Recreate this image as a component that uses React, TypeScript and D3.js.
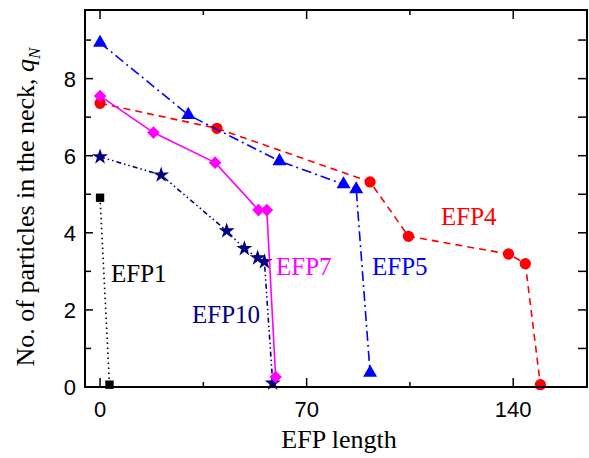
import React from "react";
import * as d3 from "d3";

// EFP length (x) vs. number of particles in the neck (y) for each EFP series
const efp1X = [0, 3.2];
const efp1Y = [4.91, 0.06];

const efp4X = [0, 39.6, 91.5, 104.5, 138.4, 144.1, 149.2];
const efp4Y = [7.36, 6.71, 5.32, 3.91, 3.45, 3.2, 0.06];

const efp5X = [0, 29.9, 60.8, 82.5, 86.8, 91.5];
const efp5Y = [8.93, 7.06, 5.86, 5.26, 5.13, 0.37];

const efp7X = [0, 18.1, 39, 53.7, 56.5, 59.5];
const efp7Y = [7.55, 6.6, 5.82, 4.59, 4.59, 0.26];

const efp10X = [0, 20.7, 42.9, 48.9, 53.4, 55.7, 58.5];
const efp10Y = [5.97, 5.5, 4.05, 3.59, 3.35, 3.25, 0.1];

const xMajorTicks = [0, 70, 140];
const xMinorTicks = [35, 105];
const yMajorTicks = [0, 2, 4, 6, 8];
const yMinorTicks = [1, 3, 5, 7, 9];

const W = 589;
const H = 458;
const margin = { left: 85, top: 10, right: 2, bottom: 71 };

const x = d3.scaleLinear().domain([-5.1, 165]).range([margin.left, W - margin.right]);
const y = d3.scaleLinear().domain([0, 9.78]).range([H - margin.bottom, margin.top]);

type Series = {
  name: string;
  xs: number[];
  ys: number[];
  color: string;
  dash: string;
  symbol: d3.SymbolType;
  size: number;
  rotate: number;
  label: { x: number; y: number };
};

const series: Series[] = [
  { name: "EFP1", xs: efp1X, ys: efp1Y, color: "#000000", dash: "1.5,3.5", symbol: d3.symbolSquare, size: 70, rotate: 0, label: { x: 111, y: 282 } },
  { name: "EFP10", xs: efp10X, ys: efp10Y, color: "#000080", dash: "5,3,1.5,3,1.5,3", symbol: d3.symbolStar, size: 80, rotate: 0, label: { x: 192, y: 323 } },
  { name: "EFP4", xs: efp4X, ys: efp4Y, color: "#ff0000", dash: "7,5", symbol: d3.symbolCircle, size: 100, rotate: 0, label: { x: 441, y: 225 } },
  { name: "EFP5", xs: efp5X, ys: efp5Y, color: "#0000ff", dash: "10,4,2,4", symbol: d3.symbolTriangle, size: 85, rotate: 0, label: { x: 372, y: 275 } },
  { name: "EFP7", xs: efp7X, ys: efp7Y, color: "#ff00ff", dash: "none", symbol: d3.symbolSquare, size: 80, rotate: 45, label: { x: 276, y: 275 } },
];

const lineGen = d3
  .line<[number, number]>()
  .x((d) => x(d[0]))
  .y((d) => y(d[1]));

const serif = "Liberation Serif";
const sans = "Liberation Sans";

export default function App() {
  const x0 = margin.left;
  const x1 = W - margin.right;
  const y0 = H - margin.bottom;
  const y1 = margin.top;

  return (
    <svg width={W} height={H} style={{ position: "absolute", left: 0, top: 0, background: "#fff" }}>
      {series.map((s) => {
        const pts = s.xs.map((v, i) => [v, s.ys[i]] as [number, number]);
        const sym = d3.symbol().type(s.symbol).size(s.size)() as string;
        return (
          <g key={s.name}>
            <path
              d={lineGen(pts) as string}
              fill="none"
              stroke={s.color}
              strokeWidth={1.6}
              strokeDasharray={s.dash}
            />
            {pts.map((p, i) => (
              <path
                key={i}
                d={sym}
                fill={s.color}
                transform={`translate(${x(p[0])},${y(p[1])}) rotate(${s.rotate})`}
              />
            ))}
            <text x={s.label.x} y={s.label.y} fill={s.color} style={{ fontFamily: serif, fontSize: 25 }}>
              {s.name}
            </text>
          </g>
        );
      })}

      {/* ticks, pointing inward on all four sides */}
      <g stroke="#000" strokeWidth={1.5}>
        {xMajorTicks.map((t) => (
          <g key={"xm" + t}>
            <line x1={x(t)} x2={x(t)} y1={y0} y2={y0 - 9} />
            <line x1={x(t)} x2={x(t)} y1={y1} y2={y1 + 9} />
          </g>
        ))}
        {xMinorTicks.map((t) => (
          <g key={"xn" + t}>
            <line x1={x(t)} x2={x(t)} y1={y0} y2={y0 - 5} />
            <line x1={x(t)} x2={x(t)} y1={y1} y2={y1 + 5} />
          </g>
        ))}
        {yMajorTicks.map((t) => (
          <g key={"ym" + t}>
            <line x1={x0} x2={x0 + 8} y1={y(t)} y2={y(t)} />
            <line x1={x1} x2={x1 - 9} y1={y(t)} y2={y(t)} />
          </g>
        ))}
        {yMinorTicks.map((t) => (
          <g key={"yn" + t}>
            <line x1={x0} x2={x0 + 6} y1={y(t)} y2={y(t)} />
            <line x1={x1} x2={x1 - 9} y1={y(t)} y2={y(t)} />
          </g>
        ))}
      </g>

      <rect x={x0} y={y1} width={x1 - x0} height={y0 - y1} fill="none" stroke="#000" strokeWidth={2} />

      {xMajorTicks.map((t) => (
        <text key={"xl" + t} x={x(t)} y={417} textAnchor="middle" style={{ fontFamily: sans, fontSize: 22 }}>
          {t}
        </text>
      ))}
      {yMajorTicks.map((t) => (
        <text key={"yl" + t} x={76} y={y(t)} dy="0.36em" textAnchor="end" style={{ fontFamily: sans, fontSize: 22 }}>
          {t}
        </text>
      ))}

      <text x={339} y={448} textAnchor="middle" style={{ fontFamily: serif, fontSize: 26 }}>
        EFP length
      </text>
      <text
        transform={`translate(34,207) rotate(-90)`}
        textAnchor="middle"
        style={{ fontFamily: serif, fontSize: 26 }}
      >
        No. of particles in the neck,{" "}
        <tspan fontStyle="italic">q</tspan>
        <tspan fontStyle="italic" fontSize={17} dy={6}>
          N
        </tspan>
      </text>
    </svg>
  );
}
